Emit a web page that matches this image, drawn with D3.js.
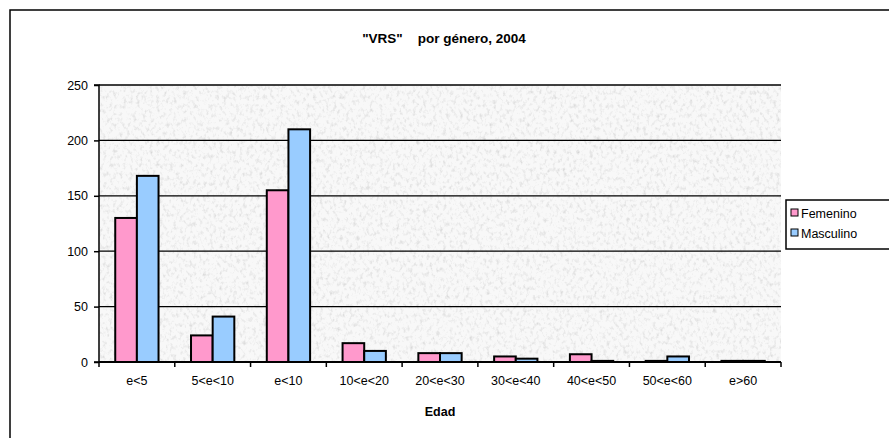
<!DOCTYPE html>
<html>
<head>
<meta charset="utf-8">
<script src="https://cdn.jsdelivr.net/npm/d3@7"></script>
<style>
  html, body { margin: 0; padding: 0; background: #fff; }
  svg { display: block; font-family: "Liberation Sans", Arial, sans-serif; }
</style>
</head>
<body>
<svg id="chart" width="889" height="438"></svg>
<script>
// Age groups and counts by gender
const categories = ["e<5", "5<e<10", "e<10", "10<e<20", "20<e<30", "30<e<40", "40<e<50", "50<e<60", "e>60"];
const femenino   = [130, 24, 155, 17, 8, 5, 7, 1, 1];
const masculino  = [168, 41, 210, 10, 8, 3, 1, 5, 1];
const seriesNames = ["Femenino", "Masculino"];
const seriesColors = ["#ff99cc", "#99ccff"];
const yTicks = [0, 50, 100, 150, 200, 250];

const svg = d3.select("#chart");
const plot = { left: 99, right: 781, top: 85, bottom: 362 };

// Speckled grey fill for the plot area
const defs = svg.append("defs");
const f = defs.append("filter").attr("id", "granite")
  .attr("x", 0).attr("y", 0).attr("width", 1).attr("height", 1);
f.append("feTurbulence").attr("type", "fractalNoise")
  .attr("baseFrequency", "0.3 0.22").attr("numOctaves", 3).attr("seed", 7).attr("result", "n");
f.append("feColorMatrix").attr("type", "matrix")
  .attr("values", "0 0 0 0 0  0 0 0 0 0  0 0 0 0 0  1.8 0 0 0 -0.9")
  .attr("result", "a");
f.append("feFlood").attr("flood-color", "#cfcfcf").attr("result", "c");
f.append("feComposite").attr("in", "c").attr("in2", "a").attr("operator", "in").attr("result", "spk");
f.append("feGaussianBlur").attr("in", "spk").attr("stdDeviation", 0.5).attr("result", "sb");
f.append("feFlood").attr("flood-color", "#f8f8f8").attr("result", "bg");
f.append("feMerge").call(m => { m.append("feMergeNode").attr("in", "bg"); m.append("feMergeNode").attr("in", "sb"); });

// Chart frame
svg.append("rect").attr("x", 10).attr("y", 10).attr("width", 890).attr("height", 440)
  .attr("fill", "#fff").attr("stroke", "#000").attr("stroke-width", 1.5);

svg.append("rect")
  .attr("x", plot.left).attr("y", plot.top)
  .attr("width", plot.right - plot.left).attr("height", plot.bottom - plot.top)
  .attr("filter", "url(#granite)").attr("fill", "#f8f8f8");

const x0 = d3.scaleBand().domain(categories).range([plot.left, plot.right]).paddingInner(0).paddingOuter(0);
const x1 = d3.scaleBand().domain(seriesNames).range([0, x0.bandwidth()]).paddingInner(0).paddingOuter(0.75);
const y = d3.scaleLinear().domain([0, 250]).range([plot.bottom, plot.top]);

// Gridlines
svg.append("g").selectAll("line").data(yTicks.filter(t => t > 0)).join("line")
  .attr("x1", plot.left).attr("x2", plot.right)
  .attr("y1", d => y(d)).attr("y2", d => y(d))
  .attr("stroke", "#000").attr("stroke-width", 1.3);

// Bars
const rows = categories.map((c, i) => ({ c, vals: [femenino[i], masculino[i]] }));
const groups = svg.append("g").selectAll("g").data(rows).join("g")
  .attr("transform", d => `translate(${x0(d.c)},0)`);
groups.selectAll("rect").data(d => d.vals.map((v, k) => ({ v, k }))).join("rect")
  .attr("x", d => x1(seriesNames[d.k]))
  .attr("width", x1.bandwidth())
  .attr("y", d => y(d.v))
  .attr("height", d => y(0) - y(d.v))
  .attr("fill", d => seriesColors[d.k])
  .attr("stroke", "#000").attr("stroke-width", 2);

// Axes
const yAxis = d3.axisLeft(y).tickValues(yTicks).tickSize(5).tickPadding(6);
const gy = svg.append("g").attr("transform", `translate(${plot.left},0)`).call(yAxis);
gy.select(".domain").attr("stroke", "#000").attr("stroke-width", 1.5).attr("d", `M-5,${plot.top}H0V${plot.bottom}H-5`);
gy.selectAll(".tick line").attr("stroke", "#000").attr("stroke-width", 1.5);
gy.selectAll("text").attr("font-size", 12.5).attr("fill", "#000")
  .attr("font-family", "'Liberation Sans', Arial, sans-serif");

const xTickScale = d3.scalePoint().domain(d3.range(categories.length + 1)).range([plot.left, plot.right]);
const gx = svg.append("g").attr("transform", `translate(0,${plot.bottom})`);
gx.append("line").attr("x1", plot.left).attr("x2", plot.right).attr("stroke", "#000").attr("stroke-width", 1.8);
gx.selectAll("line.tk").data(d3.range(categories.length + 1)).join("line").attr("class", "tk")
  .attr("x1", d => xTickScale(d)).attr("x2", d => xTickScale(d))
  .attr("y1", 0).attr("y2", 5).attr("stroke", "#000").attr("stroke-width", 1.5);
gx.selectAll("text").data(categories).join("text")
  .attr("x", d => x0(d) + x0.bandwidth() / 2).attr("y", 23)
  .attr("text-anchor", "middle").attr("font-size", 12.5).attr("fill", "#000")
  .text(d => d);

// Titles
svg.append("text").attr("x", 444).attr("y", 43).attr("text-anchor", "middle")
  .attr("font-size", 13.5).attr("font-weight", "bold").attr("xml:space", "preserve")
  .text("\"VRS\"    por género, 2004");
svg.append("text").attr("x", 440).attr("y", 416).attr("text-anchor", "middle")
  .attr("font-size", 12.5).attr("font-weight", "bold").text("Edad");

// Legend
const lg = svg.append("g").attr("transform", "translate(786,200)");
lg.append("rect").attr("width", 110).attr("height", 49).attr("fill", "#fff").attr("stroke", "#000").attr("stroke-width", 1.5);
seriesNames.forEach((name, i) => {
  const row = lg.append("g").attr("transform", `translate(5,${13 + i * 20})`);
  row.append("rect").attr("x", 0).attr("y", -4).attr("width", 7).attr("height", 7)
    .attr("fill", seriesColors[i]).attr("stroke", "#000").attr("stroke-width", 1);
  row.append("text").attr("x", 10).attr("y", 4.5).attr("font-size", 12.5).attr("fill", "#000").text(name);
});
</script>
</body>
</html>
